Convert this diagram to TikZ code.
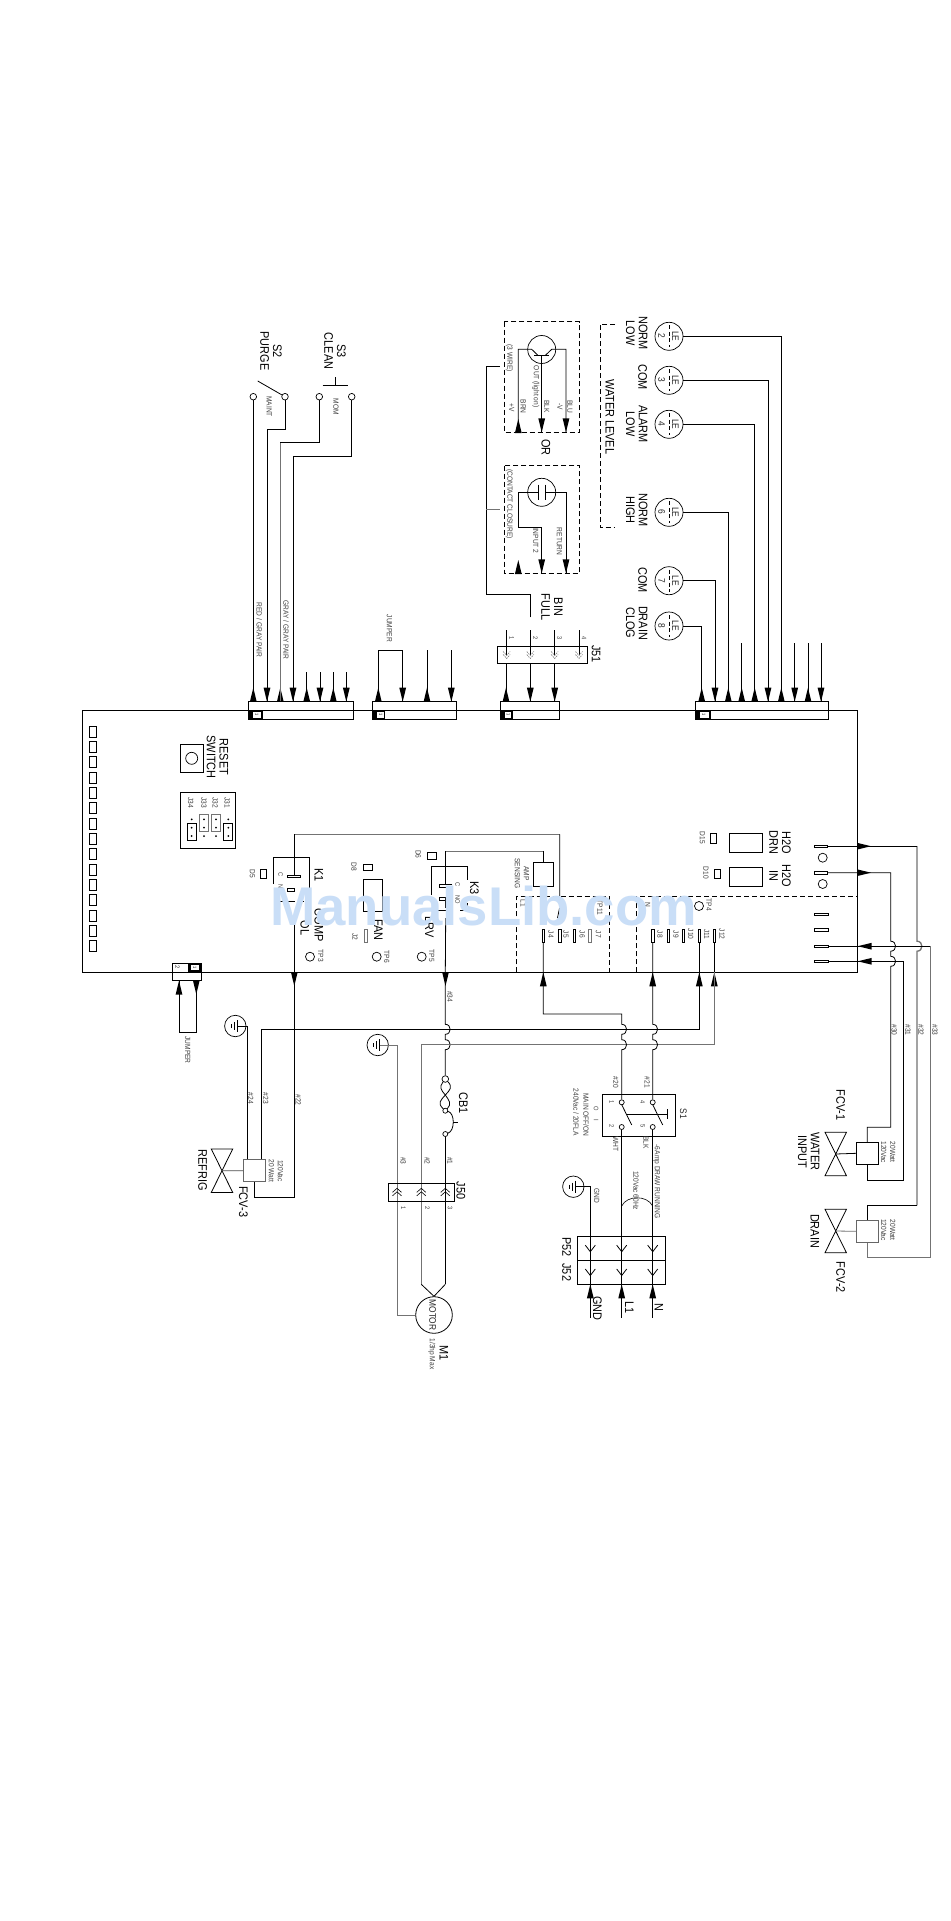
\documentclass[tikz,border=0pt]{standalone}
\usepackage{fontspec}
\setmainfont[FakeStretch=0.88]{Liberation Sans}
\newfontfamily\wmfont{Liberation Sans}
\definecolor{wmblue}{HTML}{C9DEF7}
\definecolor{wgray}{gray}{0.45}
\newcounter{tcnt}
\newcommand\lbl[4][sm]{\stepcounter{tcnt}\node[#1] (t\arabic{tcnt}) at (#2,#3) {#4};}
\def\arU#1#2{\fill (#1-3.4,#2+14) -- (#1+3.4,#2+14) -- (#1,#2) -- cycle;}
\def\arD#1#2{\fill (#1-3.4,#2-14) -- (#1+3.4,#2-14) -- (#1,#2) -- cycle;}
\def\arR#1#2{\fill (#1-14,#2-3.4) -- (#1-14,#2+3.4) -- (#1,#2) -- cycle;}
\def\arL#1#2{\fill (#1+14,#2-3.4) -- (#1+14,#2+3.4) -- (#1,#2) -- cycle;}
\def\hmp#1#2{-- (#1,#2-5) .. controls (#1+6.5,#2-5) and (#1+6.5,#2+5) .. (#1,#2+5)}
\def\pinblk#1#2#3#4{\fill (#1,#3) rectangle (#2,#4);
 \fill[white] (#1+4.6,#3+1.7) rectangle (#2-1.4,#4-1.7);
 \lbl[pinnum]{#1+8.5}{#3+4.5}{1}}
\def\valve#1#2{\draw[wire] (#1-10.7,#2-21.7) -- (#1+10.7,#2-21.7) -- (#1-10.7,#2+21.7) -- (#1+10.7,#2+21.7) -- cycle;}
\def\gndbars#1#2{\draw[wire] (#1+2,#2-6) -- (#1+2,#2+6) (#1-1,#2-4) -- (#1-1,#2+4) (#1-4,#2-2) -- (#1-4,#2+2);}
\def\chU#1#2{\draw[wire,line width=.6pt] (#1-4.5,#2+4) -- (#1,#2) -- (#1+4.5,#2+4) (#1-4.5,#2+7.5) -- (#1,#2+3.5) -- (#1+4.5,#2+7.5);}
\def\chD#1#2{\draw[gray,line width=.7pt,dash pattern=on 1.5pt off 1pt] (#1-3.5,#2-4) -- (#1,#2) -- (#1+3.5,#2-4) (#1-3.5,#2-7) -- (#1,#2-3) -- (#1+3.5,#2-7);}
\def\chV#1#2{\draw[wire] (#1-5,#2-6.5) -- (#1,#2) -- (#1+5,#2-6.5);}
\tikzset{
 wire/.style={line width=.8pt,black},
 gwire/.style={line width=1pt,wgray},
 dbox/.style={line width=.8pt,dash pattern=on 5pt off 3pt},
 big/.style={rotate=-90,inner sep=0pt,align=center,font=\fontsize{12.4}{12.8}\selectfont},
 med/.style={rotate=-90,inner sep=0pt,align=center,font=\fontsize{9.5}{10}\selectfont,text=black!85},
 sm/.style={rotate=-90,inner sep=0pt,align=center,font=\fontsize{7.5}{9}\selectfont,text=black!75},
 tiny/.style={rotate=-90,inner sep=0pt,align=center,font=\fontsize{6.5}{8}\selectfont,text=black!75},
 pinnum/.style={rotate=-90,inner sep=0pt,font=\fontsize{4.5}{5}\selectfont},
 term/.style={circle,draw,line width=.7pt,inner sep=0pt,minimum size=6.6pt,fill=white},
 sterm/.style={circle,draw,line width=.7pt,inner sep=0pt,minimum size=5pt,fill=white},
 tp/.style={circle,draw,line width=.7pt,inner sep=0pt,minimum size=9pt},
 lecirc/.style={circle,draw,line width=.7pt,inner sep=0pt,minimum size=28pt},
 gcirc/.style={circle,draw,line width=.7pt,inner sep=0pt,minimum size=21.4pt},
 pinv/.style={rectangle,draw,line width=.7pt,inner sep=0pt,minimum width=2.7pt,minimum height=13pt},
 pinh/.style={rectangle,draw,line width=.7pt,inner sep=0pt,minimum width=13.4pt,minimum height=2.3pt},
 solbox/.style={rectangle,draw,line width=.9pt,inner sep=0pt,minimum width=21.6pt,minimum height=21.8pt},
}
\begin{document}
\begin{tikzpicture}[x=1pt,y=-1pt]
\useasboundingbox (0,0) rectangle (950,1921);
\fill[white] (0,0) rectangle (950,1921);
% board
\draw[wire] (82.7,710.3) rectangle (857.7,972.3);
% top connectors
\draw[wire] (248.3,701.3) rectangle (353.7,719.3);
\draw[wire] (372.3,701.3) rectangle (456.7,719.3);
\draw[wire] (500,701.3) rectangle (559.7,719.3);
\draw[wire] (695.3,701.3) rectangle (828.3,719.3);
\pinblk{248.3}{262.7}{710.3}{719.3}
\pinblk{372.3}{385}{710.3}{719.3}
\pinblk{500}{512.7}{710.3}{719.3}
\pinblk{695.3}{710.7}{710.3}{719.3}
% pin coordinates
\foreach \i/\x in {1/253.3,2/267,3/280.3,4/293,5/306.7,6/320,7/333.3,8/346.3}{\coordinate (a\i) at (\x,701.3);}
\foreach \i/\x in {1/378.3,2/402.7,3/427,4/451.3}{\coordinate (b\i) at (\x,701.3);}
\foreach \i/\x in {1/506,2/530.3,3/554.7}{\coordinate (c\i) at (\x,701.3);}
\foreach \i/\x in {1/701.7,2/715,3/728.3,4/741.7,5/754.7,6/768,7/781.3,8/794.7,9/808,10/821}{\coordinate (d\i) at (\x,701.3);}
\foreach \x in {253.3,280.3,306.7,333.3,378.3,427,506,701.7,728.3,741.7,754.7,781.3,808}{\arU{\x}{687.7}}
\foreach \x in {267,293,320,346.3,402.7,451.3,530.3,554.7,715,768,794.7,821}{\arD{\x}{701.7}}
% S2 / S3
\node[term] (s2a) at (253.3,396.7) {};
\node[term] (s2b) at (285,396.7) {};
\node[term] (s3a) at (319.3,396.7) {};
\node[term] (s3b) at (351.7,396.7) {};
\draw[wire] (a1) -- (s2a);
\draw[wire] (a2) -- ++(0,-272) -| (s2b);
\draw[wire] (s3a) |- ([yshift=0pt]280.3,442.7);
\draw[gwire,line width=1.3pt] (a3) -- ++(0,-258.6);
\draw[wire] (a4) -- ++(0,-244.6) -| (s3b);
\foreach \i in {5,6,7,8}{\draw[wire] (a\i) -- ++(0,-29.6);}
\draw[wire] (257.7,381) -- (s2b);
\draw[wire] (322.7,385.3) -- (348.3,385.3) (335.3,385.3) -- (335.3,377.3);
\lbl[big]{271}{351}{S2\\PURGE}
\lbl[big]{335}{351}{S3\\CLEAN}
\lbl{269.3}{406.7}{MAINT}
\lbl{336}{406.7}{MOM}
\lbl{259.3}{630}{RED / GRAY PAIR}
\lbl{286}{630}{GRAY / GRAY PAIR}
% jumper B
\draw[wire] (b1) -- ++(0,-51.3) -| (b2);
\draw[wire] (b3) -- ++(0,-51.3);
\draw[wire] (b4) -- ++(0,-51.3);
\lbl{389.3}{628.3}{JUMPER}
% J51
\draw[wire] (497.3,646.3) rectangle (587.3,663.3);
\foreach \i/\x in {1/506.7,2/530.3,3/554.7,4/579}{
 \coordinate (jt\i) at (\x,655);
 \draw[wire] (jt\i) -- ++(0,-25);
 \chD{\x}{658.5}
 \lbl[tiny]{\x+5}{637.7}{\i}}
\foreach \i/\x in {1/506,2/530.3,3/554.7}{\draw[wire] (c\i) -- (\x,663.3);}
\lbl[big]{596}{654}{J51}
\coordinate (bf0) at (530.3,617.3);
\coordinate (bf1) at (486.3,594.3);
\coordinate (bf2) at (486.3,366);
\coordinate (bf3) at (500,366);
\coordinate (bf4) at (486.3,509.3);
\coordinate (bf5) at (500,509.3);
\draw[wire] (bf0) |- (bf1) -- (bf2) -- (bf3);
\draw[gwire] (bf4) -- (bf5);
\lbl[big]{552}{607}{BIN\\FULL}
% sensors
\draw[dbox] (504.3,321.7) rectangle (579.7,432.3);
\draw[dbox] (504.3,465.7) rectangle (579.7,573.3);
\node[circle,draw,line width=.7pt,inner sep=0pt,minimum size=28pt] (sen1) at (541.7,349.5) {};
\node[circle,draw,line width=.7pt,inner sep=0pt,minimum size=28pt] (sen2) at (541.7,492.3) {};
\draw[wire] (518.3,432.3) -- (518.3,349.3) -- (531.7,349.3) -- (538.3,355.7);
\draw[wire] (566,432.3) -- (566,349.3) -- (551.7,349.3) -- (545,355.7);
\draw[wire] (534.3,355.7) -- (549,355.7) (541.7,355.7) -- (541.7,432.3);
\arU{518.3}{419}\arD{541.7}{432.3}\arD{566}{432.3}
\draw[wire] (538.3,484.5) -- (538.3,500) (545,484.5) -- (545,500);
\draw[wire] (538.3,492.3) -- (518.3,492.3) -- (518.3,527.3) -- (541.7,527.3) -- (541.7,573.3);
\draw[wire] (545,492.3) -- (566,492.3) -- (566,573.3);
\arU{518.3}{560}\arD{541.7}{573.3}\arD{566}{573.3}
\lbl{509.3}{358.3}{(3 WIRE)}
\lbl{535.7}{386.7}{OUT (light on)}
\lbl{523.3}{406.7}{BRN}
\lbl{511.7}{408}{+V}
\lbl{546.7}{406.7}{BLK}
\lbl{560}{407}{-V}
\lbl{570}{406.7}{BLU}
\lbl[big]{546}{447.3}{OR}
\lbl{509.3}{504}{(CONTACT CLOSURE)}
\lbl{535.7}{540.7}{INPUT 2}
\lbl{559.3}{541.7}{RETURN}
% water level
\draw[dbox] (615,324) -- (600,324) -- (600,527.3) -- (615,527.3);
\lbl[big]{610}{416.7}{WATER LEVEL}
\foreach \n/\y in {2/336.3,3/380.3,4/424.3,6/512.3,7/580.7,8/626}{
 \node[lecirc] (le\n) at (669,\y) {};
 \draw[wire,dash pattern=on 4pt off 2.5pt] (669,\y-11) -- (669,\y+11);
 \lbl[med]{675.5}{\y}{LE}
 \lbl[med]{661.7}{\y}{\n}}
\draw[wire] (le2.east) -| (d7);
\draw[wire] (le3.east) -| (d6);
\draw[wire] (le4.east) -| (d5);
\draw[wire] (le6.east) -| (d3);
\draw[wire] (le7.east) -| (d2);
\draw[wire] (le8.east) -| (d1);
\foreach \i in {4,8,9,10}{\draw[wire] (d\i) -- ++(0,-58.6);}
\lbl[big]{636.7}{333}{NORM\\LOW}
\lbl[big]{642.7}{377.3}{COM}
\lbl[big]{636.7}{424}{ALARM\\LOW}
\lbl[big]{636.7}{510}{NORM\\HIGH}
\lbl[big]{642.7}{580}{COM}
\lbl[big]{636.7}{623}{DRAIN\\CLOG}
% left column
\foreach \i in {0,...,14}{\draw[wire] (89.3,726.2+15.33*\i) rectangle (96.3,737.2+15.33*\i);}
% reset
\draw[wire] (180.7,744.3) rectangle (203.3,772.3);
\node[tp,minimum size=12pt] (rst) at (191.7,758.3) {};
\lbl[big]{217.5}{757}{RESET\\SWITCH}
% jumper block
\draw[wire] (180.7,792.3) rectangle (235.3,848.3);
\lbl{190.7}{802.7}{J34}
\lbl{204}{802.7}{J33}
\lbl{215.3}{802.7}{J32}
\lbl{227.3}{802.7}{J31}
\foreach \x in {191.7,204,216,228.3}{\foreach \y in {819.3,827.7,836}{\fill (\x,\y) circle (1pt);}}
\draw[wire] (187.3,823.3) rectangle (196.7,840.3);
\draw[gwire] (199.3,814.3) rectangle (208.7,831.7);
\draw[gwire] (211.3,814.3) rectangle (220.7,831.7);
\draw[wire] (223.7,823.3) rectangle (232.7,840.3);
% K1
\draw[wire] (273.3,884) -- (273.3,857.3) -- (309.3,857.3) -- (309.3,901);
\draw[wire,dash pattern=on 8pt off 3pt] (276,901.5) -- (304,901.5);
\draw[wire] (287.3,875) rectangle (300.7,877.5);
\draw[wire] (287.3,888) rectangle (294.3,891.5);
\draw[gwire] (294.3,834.3) -- (559.7,834.3);
\draw[wire] (294.3,834.3) -- (294.3,875);
\draw[wire] (559.7,834.3) -- (559.7,896) (559.5,908) -- (557.5,918);
\lbl[tiny]{280.5}{875}{C}
\lbl[tiny]{280.5}{889}{NO}
\lbl[big]{319}{875.3}{K1}
\lbl[big]{319}{925}{COMP}
\lbl[big]{305}{928}{OL}
\draw[wire] (260,869.3) rectangle (266.7,878.7);
\lbl{252.3}{874}{D5}
% FAN
\draw[wire] (370,911.7) -- (363.3,911.7) -- (363.3,879.3) -- (382.3,879.3) -- (382.3,911.7) -- (375,911.7);
\draw[wire] (363.3,864) rectangle (372.7,870.7);
\lbl{354}{866.7}{D8}
\lbl[big]{378.3}{930}{FAN}
\draw[gwire] (364.3,929) rectangle (367.7,942.7);
\lbl{355}{936.7}{J2}
% K3
\draw[wire] (431.3,895) -- (431.3,866.7) -- (467.3,866.7) -- (467.3,880) (467.3,903) -- (467.3,910) -- (460,910) (450,910) -- (437,910);
\draw[gwire] (445.7,851) -- (543.3,851);
\draw[wire] (445.7,851) -- (445.7,884) (445.7,900.7) -- (445.7,908);
\draw[wire] (452.3,884) -- (439,884) -- (439,887.3) -- (445.7,887.3);
\draw[wire] (439,897.3) rectangle (445.7,900.7);
\lbl[tiny]{457.5}{885}{C}
\lbl[tiny]{457.5}{900}{NO}
\lbl[big]{474.3}{887.7}{K3}
\lbl[big]{429.3}{927.3}{LRV}
\draw[wire] (427.7,852.3) rectangle (436.7,859);
\lbl{418.3}{854.3}{D6}
% TP
\node[tp] (tp3) at (310,956.7) {};
\node[tp] (tp6) at (376.7,956.7) {};
\node[tp] (tp5) at (421.7,956.7) {};
\lbl{320.7}{955.7}{TP3}
\lbl{386.7}{956.7}{TP6}
\lbl{431.7}{955.7}{TP5}
\node[tp] (tp4) at (699,906) {};
\lbl{709}{905}{TP4}
\lbl{600}{907.3}{TP11}
\lbl{523.3}{903}{L1}
\lbl{647.7}{905}{N}
% AMP
\node[rectangle,draw,line width=.8pt,inner sep=0pt,minimum width=20pt,minimum height=24.4pt] (amp) at (543.3,874.5) {};
\draw[wire] (543.3,851) -- (amp.north);
\lbl{522}{873.3}{AMP\\SENSING}
% dashed areas
\draw[dbox] (516.7,972.3) -- (516.7,896.3) -- (609,896.3) -- (609,972.3);
\draw[dbox] (636.3,972.3) -- (636.3,896.3) -- (857.7,896.3);
% J pins
\node[pinv] (j4) at (543.3,935.8) {};
\node[pinv] (j5) at (559.7,935.8) {};
\node[pinv] (j6) at (574.3,935.8) {};
\node[pinv,draw=wgray] (j7) at (590,935.8) {};
\node[pinv] (j8) at (652.7,935.8) {};
\node[pinv] (j9) at (668.3,935.8) {};
\node[pinv] (j10) at (683.3,935.8) {};
\node[pinv] (j11) at (699.3,935.8) {};
\node[pinv] (j12) at (714.3,935.8) {};
\lbl{551}{934.3}{J4}
\lbl{566}{934.3}{J5}
\lbl{582.3}{934.3}{J6}
\lbl{598.3}{934.3}{J7}
\lbl{660}{934.3}{J8}
\lbl{676}{934.3}{J9}
\lbl{690.7}{934.3}{J10}
\lbl{706.7}{934.3}{J11}
\lbl{722}{934.3}{J12}
% H2O
\draw[wire] (729.3,833.3) rectangle (762.3,852.3);
\draw[wire] (729.3,867.3) rectangle (762.3,886.3);
\draw[wire] (710.7,833.3) rectangle (716.7,843.3);
\draw[wire] (714,869) rectangle (720.7,878.3);
\lbl{702.3}{837.7}{D15}
\lbl{706}{872.7}{D10}
\lbl[big]{780}{842.7}{H2O\\DRN}
\lbl[big]{780}{875.7}{H2O\\IN}
\node[pinh] (pr1) at (821,846.2) {};
\node[pinh] (pr2) at (821,872.7) {};
\node[pinh] (pr3) at (821.4,914.3) {};
\node[pinh] (pr4) at (821.4,929.7) {};
\node[pinh] (pr5) at (821.4,946.2) {};
\node[pinh] (pr6) at (821.4,961.3) {};
\node[tp] (tp7) at (822.7,857.7) {};
\node[tp] (tp8) at (822.7,884) {};
% FCV-1, FCV-2
\node[solbox] (fc1) at (867.3,1153.3) {};
\node[solbox,draw=black!60] (fc2) at (867.3,1231.3) {};
\coordinate (v1) at (835.7,1154);
\coordinate (v2) at (835.7,1231);
\valve{835.7}{1154}
\valve{835.7}{1231}
\draw[wire] (v1) -- (fc1.west);
\draw[gwire,line width=.8pt] (v2) -- (fc2.west);
\draw[gwire,line width=1.3pt] (917,846.2) \hmp{917}{946.2} -- (917,1205.3);
\draw[wire] (pr1.east) -- (917,846.2);
\draw[wire] (917,1205.3) -| (fc2.north);
\draw[wire] (pr2.east) -- (890.7,872.7) \hmp{890.7}{946.2} \hmp{890.7}{961.3} -- (890.7,1127.3) -| (fc1.north);
\draw[gwire] (930.3,946.2) -- (930.3,1257.7) -| (fc2.south);
\draw[wire] (pr5.east) -- (930.3,946.2);
\draw[wire] (pr6.east) -- (903.7,961.3) -- (903.7,1180.3) -| (fc1.south);
\arR{871}{846.2}\arR{871}{872.7}\arL{857.7}{946.2}\arL{857.7}{961.3}
\lbl{894.3}{1030}{\#30}
\lbl{908}{1030}{\#31}
\lbl{921}{1030}{\#32}
\lbl{935}{1030}{\#33}
\lbl[big]{840.7}{1105}{FCV-1}
\lbl[big]{808.7}{1151.7}{WATER\\INPUT}
\lbl[big]{815}{1231}{DRAIN}
\lbl[big]{840.7}{1277.3}{FCV-2}
\lbl{888.3}{1152.3}{20Watt\\120Vac}
\lbl{888.3}{1230}{20Watt\\120Vac}
% bottom left connector
\draw[wire] (172.3,963.3) rectangle (201.7,980.7);
\fill (188.3,963.3) rectangle (201.7,972.3);
\fill[white] (190.7,965.3) rectangle (199,970);
\lbl[pinnum]{195}{967.7}{1}
\lbl[tiny]{177.3}{966.7}{2}
\coordinate (lj1) at (179,980.7);
\coordinate (lj2) at (196.3,980.7);
\draw[wire] (lj1) -- ++(0,51.6) -| (lj2);
\arU{179}{980.7}\arD{196.3}{994.3}
\lbl{187.7}{1050}{JUMPER}
% compressor wire, FCV-3
\node[solbox,draw=black!60] (fc3) at (254.3,1170.8) {};
\coordinate (wk1) at (294.3,921.7);
\draw[wire] (wk1) -- (294.3,1197.3) -| (fc3.south);
\arD{294.3}{986}
\node[gcirc] (gnd1) at (235.3,1026) {};
\gndbars{235.3}{1026}
\draw[wire] ([xshift=-6.6pt]fc3.north) |- ([xshift=2pt]gnd1.center);
\coordinate (e4) at (699.3,972.3);
\coordinate (e5) at (714.3,972.3);
\draw[wire] (j11.south) -- (e4) -- ++(0,57) -| ([xshift=7pt]fc3.north);
\draw[wire] (j12.south) -- (e5);
\arU{699.3}{972.3}\arU{714.3}{972.3}
\valve{222}{1170.7}
\coordinate (v3) at (222,1170.7);
\draw[wire,black!70] (v3) -- (fc3.west);
\lbl{250.7}{1098.3}{\#24}
\lbl{265.7}{1098.3}{\#23}
\lbl{298.3}{1100}{\#22}
\lbl[big]{202.7}{1170}{REFRIG}
\lbl[big]{243.3}{1201.7}{FCV-3}
\lbl{276}{1171}{120Vac\\20 Watt}
% motor section
\node[term] (cb1a) at (445.3,1079) {};
\node[term,minimum size=5pt] (cb1b) at (445.3,1110.7) {};
\node[term,minimum size=5pt] (cb1c) at (445.3,1134) {};
\node[circle,draw,line width=.8pt,inner sep=0pt,minimum size=36.6pt] (motor) at (434,1315) {};
\coordinate (mtl) at (421.3,1284.3);
\coordinate (mtr) at (445.3,1284.3);
\draw[wire] (445.7,918) -- (445.3,972.3) \hmp{445.3}{1029.3} \hmp{445.3}{1044.7} -- (cb1a);
\arD{445.5}{986}
\draw[gwire] (e5) -- ++(0,72.4) -| (mtl);
\draw[wire] (mtl) -- (motor.north);
\draw[wire] (mtr) -- (motor.north);
\draw[wire] (cb1a) .. controls (439,1087) and (441,1090) .. (445.3,1095) .. controls (449,1100) and (452,1104) .. (cb1b);
\draw[wire] (cb1a) .. controls (453,1087) and (450,1090) .. (445.3,1095) .. controls (441,1100) and (437,1103) .. (cb1b);
\draw[wire] (cb1b) .. controls (455,1113) and (455,1131) .. (cb1c);
\draw[wire] (453,1122.7) -- (458,1122.7);
\draw[wire] (cb1c) -- (mtr);
\node[gcirc] (gnd2) at (377.7,1045) {};
\gndbars{377.7}{1045}
\draw[gwire] ([xshift=2pt]gnd2.center) -- ++(17.3,0) |- (motor.west);
\node[rectangle,draw,line width=.8pt,inner sep=0pt,minimum width=66pt,minimum height=17.7pt] (j50) at (421.7,1192.2) {};
\chU{397}{1188.3}\chU{421.3}{1188.3}\chU{445.3}{1188.3}
\lbl[big]{461}{1190.7}{J50}
\lbl[tiny]{403.3}{1207.7}{1}
\lbl[tiny]{427.3}{1207.7}{2}
\lbl[tiny]{450}{1207.7}{3}
\lbl{403.3}{1160.7}{\#3}
\lbl{427.3}{1160.7}{\#2}
\lbl{450}{1160.7}{\#1}
\lbl{450}{996.7}{\#34}
\lbl[big]{463.3}{1103.3}{CB1}
\lbl[med]{432.7}{1315}{MOTOR}
\lbl[big]{444}{1353.3}{M1}
\lbl{431.7}{1354}{1/3hp Max}
% S1
\draw[wire] (602.3,1094.3) rectangle (675.3,1136.3);
\node[sterm] (s1a) at (621.7,1102.3) {};
\node[sterm] (s1b) at (652.7,1102.3) {};
\node[sterm] (s1c) at (621.7,1127) {};
\node[sterm] (s1d) at (652.7,1127) {};
\coordinate (e1) at (543.3,972.3);
\coordinate (e2) at (652.7,972.3);
\draw[wire] (j4.south) -- (e1) -- ++(0,41.7) -- (621.7,1014) \hmp{621.7}{1029.3} \hmp{621.7}{1044.7} -- (s1a);
\draw[wire] (j8.south) -- (e2) \hmp{652.7}{1029.3} \hmp{652.7}{1044.7} -- (s1b);
\arU{543.3}{972.3}\arU{652.7}{972.3}
\draw[wire] (621.7,1104.7) -- (631.7,1125) (652.7,1104.7) -- (662.7,1125);
\draw[wire] (626.7,1114) -- (667.7,1114) (667.7,1109.3) -- (667.7,1119.3);
\lbl[med]{683.3}{1114}{S1}
\lbl[tiny]{611.7}{1101.7}{1}
\lbl[tiny]{611.7}{1125.7}{2}
\lbl[tiny]{642.7}{1101.7}{4}
\lbl[tiny]{642.7}{1125.7}{5}
\lbl[tiny]{596}{1108.3}{O}
\lbl[tiny]{596}{1120.7}{I}
\lbl{586}{1115}{MAIN OFF/ON}
\lbl{576}{1112.3}{240Vac / 20FLA}
\lbl{615.7}{1082.3}{\#20}
\lbl{647.3}{1082.3}{\#21}
\lbl{615.7}{1144}{WHT}
\lbl{646}{1142.7}{BLK}
\lbl{656.7}{1181.7}{-6Amp DRAW RUNNING}
\lbl{636}{1190.7}{120Vac 60Hz}
\draw[wire,line width=.6pt] (621.7,1206) .. controls (627,1195) and (647,1195) .. (652.7,1206);
% P52 J52
\coordinate (pe1) at (590.3,1317.7);
\coordinate (pe2) at (621.7,1317.7);
\coordinate (pe3) at (652.7,1317.7);
\node[gcirc] (gnd3) at (573.3,1186.7) {};
\gndbars{573.3}{1186.7}
\draw[wire] ([xshift=2pt]gnd3.center) -| (pe1);
\draw[wire] (s1c) -- (pe2);
\draw[wire] (s1d) -- (pe3);
\draw[wire] (577.3,1236.3) rectangle (665.3,1284.3) (577.3,1260.3) -- (665.3,1260.3);
\foreach \x in {590.3,621.7,652.7}{\chV{\x}{1251.7}\chV{\x}{1275.5}\arU{\x}{1284.3}}
\lbl[big]{566.7}{1246.7}{P52}
\lbl[big]{566.7}{1272.3}{J52}
\lbl{596.7}{1196}{GND}
\lbl[big]{597.3}{1308.3}{GND}
\lbl[big]{629.3}{1307.3}{L1}
\lbl[big]{659}{1307.3}{N}
% watermark
\node[anchor=base,inner sep=0pt,text=wmblue,font=\wmfont\bfseries\fontsize{54.5}{55}\selectfont] (wm) at (483.5,925) {ManualsLib.com};
\end{tikzpicture}
\end{document}
